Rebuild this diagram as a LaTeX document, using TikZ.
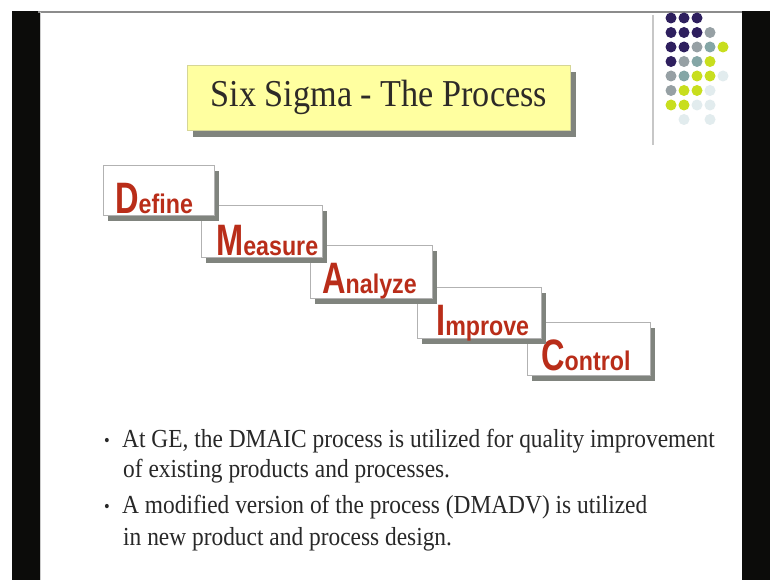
\documentclass[tikz,border=0pt]{standalone}
\usepackage{fontspec}
\setmainfont{Liberation Serif}
\newfontfamily\slidefont[FakeStretch=0.9]{Liberation Serif}
\newfontfamily\capfont[FakeStretch=0.74]{Liberation Sans}
\newfontfamily\lowfont[FakeStretch=0.86]{Liberation Sans}
\usetikzlibrary{shadows}

\definecolor{navy}{RGB}{46,31,94}
\definecolor{dotgrey}{RGB}{150,160,164}
\definecolor{dotteal}{RGB}{132,166,166}
\definecolor{dotlime}{RGB}{200,222,30}
\definecolor{dotfaint}{RGB}{226,236,238}
\definecolor{titlefill}{RGB}{255,255,160}
\definecolor{titleedge}{RGB}{214,214,150}
\definecolor{shadowgrey}{RGB}{128,132,126}
\definecolor{stepred}{RGB}{185,45,25}
\definecolor{textgrey}{RGB}{40,40,40}
\definecolor{framebk}{RGB}{12,12,10}

% first letter large and narrow, the rest of the word smaller
\newcommand\stepword[2]{{\capfont\bfseries\fontsize{44}{44}\selectfont #1}{\lowfont\bfseries\fontsize{27}{27}\selectfont #2}}

\tikzset{
  titlebox/.style={fill=titlefill, draw=titleedge, line width=0.8pt, inner sep=0pt,
    anchor=north west, text=black!90!olive,
    font=\slidefont\fontsize{38}{40}\selectfont,
    drop shadow={shadow xshift=6pt, shadow yshift=-7pt, fill=shadowgrey, opacity=1}},
  stepbox/.style={fill=white, draw=black!30, line width=0.7pt, inner sep=0pt,
    anchor=north west,
    drop shadow={shadow xshift=5pt, shadow yshift=-6pt, fill=shadowgrey, opacity=1}},
  steplabel/.style={anchor=base west, inner sep=0pt, text=stepred},
  bullettext/.style={anchor=base west, inner sep=0pt, text=textgrey,
    font=\slidefont\fontsize{26}{30}\selectfont},
  bulletdot/.style={anchor=base west, inner sep=0pt, text=textgrey,
    font=\slidefont\fontsize{18}{20}\selectfont},
}

\begin{document}
\begin{tikzpicture}[x=1pt, y=-1pt]
\useasboundingbox (0,0) rectangle (770,580);
\fill[white] (0,0) rectangle (770,580);

% dark surround of the slide
\fill[framebk] (12,11) rectangle (40,580);
\fill[framebk] (742,11) rectangle (770,580);
\draw[black!45, line width=2pt] (38,12) -- (742,12);
\draw[black!20, line width=1pt] (40.5,12) -- (40.5,580);

% decorative dot grid and rule, top right
\draw[black!22, line width=1.5pt] (653,15) -- (653,145);
\foreach \r/\c/\col in {
  1/1/navy, 1/2/navy, 1/3/navy,
  2/1/navy, 2/2/navy, 2/3/navy, 2/4/dotgrey,
  3/1/navy, 3/2/navy, 3/3/dotgrey, 3/4/dotteal, 3/5/dotlime,
  4/1/navy, 4/2/dotgrey, 4/3/dotteal, 4/4/dotlime,
  5/1/dotgrey, 5/2/dotteal, 5/3/dotlime, 5/4/dotlime, 5/5/dotfaint,
  6/1/dotgrey, 6/2/dotlime, 6/3/dotlime, 6/4/dotfaint,
  7/1/dotlime, 7/2/dotlime, 7/3/dotfaint, 7/4/dotfaint,
  8/2/dotfaint, 8/4/dotfaint}
  \fill[\col] (658+13*\c, 3.5+14.5*\r) circle[radius=5.5pt];

% title
\node[titlebox, minimum width=383pt, minimum height=65pt] (title) at (187,65)
  {Six Sigma - The Process};

% DMAIC staircase, drawn from the last step back so earlier steps lie on top
\node[stepbox, minimum width=123pt, minimum height=53pt] (control) at (527,322) {};
\node[steplabel] (controlT) at ([xshift=14pt, yshift=5pt]control.south west) {\stepword{C}{ontrol}};

\node[stepbox, minimum width=124pt, minimum height=51pt] (improve) at (417,287) {};
\node[steplabel] (improveT) at ([xshift=19pt, yshift=3pt]improve.south west) {\stepword{I}{mprove}};

\node[stepbox, minimum width=122pt, minimum height=53pt] (analyze) at (310,245) {};
\node[steplabel] (analyzeT) at ([xshift=12pt, yshift=5pt]analyze.south west) {\stepword{A}{nalyze}};

\node[stepbox, minimum width=121pt, minimum height=52pt] (measure) at (201,205) {};
\node[steplabel] (measureT) at ([xshift=15pt, yshift=2pt]measure.south west) {\stepword{M}{easure}};

\node[stepbox, minimum width=111pt, minimum height=50pt] (define) at (103,165) {};
\node[steplabel] (defineT) at ([xshift=12pt, yshift=2pt]define.south west) {\stepword{D}{efine}};

% bullet points
\node[bulletdot] (dot1) at (104,446) {•};
\node[bullettext] (line1) at (122,447) {At GE, the DMAIC process is utilized for quality improvement};
\node[bullettext] (line2) at (123,477) {of existing products and processes.};
\node[bulletdot] (dot2) at (104,512) {•};
\node[bullettext] (line3) at (122,513) {A modified version of the process (DMADV) is utilized};
\node[bullettext] (line4) at (123,545) {in new product and process design.};
\end{tikzpicture}
\end{document}
